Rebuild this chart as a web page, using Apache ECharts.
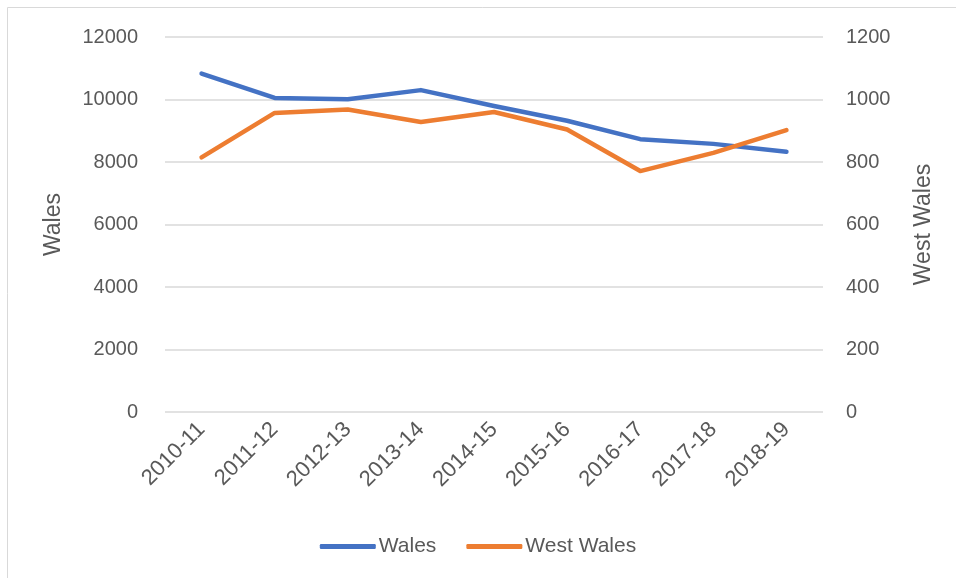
<!DOCTYPE html>
<html>
<head>
<meta charset="utf-8">
<script src="https://cdn.jsdelivr.net/npm/echarts@6/dist/echarts.min.js"></script>
<style>
  html, body { margin: 0; padding: 0; background: #fff; }
  #chart { width: 956px; height: 578px; }
</style>
</head>
<body>
<div id="chart"></div>
<script>
// years on the x axis
const years = ["2010-11", "2011-12", "2012-13", "2013-14", "2014-15", "2015-16", "2016-17", "2017-18", "2018-19"];
// left axis series
const walesValues = [10830, 10050, 10010, 10300, 9790, 9320, 8730, 8580, 8330];
// right axis series
const westWalesValues = [815, 957, 968, 928, 960, 904, 771, 829, 902];
const leftTicks = [0, 2000, 4000, 6000, 8000, 10000, 12000];
const rightTicks = [0, 200, 400, 600, 800, 1000, 1200];

const textColor = "#595959";
const font = "Liberation Sans";

const myChart = echarts.init(document.getElementById("chart"));
const option = {
  animation: false,
  textStyle: { fontFamily: font },
  graphic: [
    {
      type: "rect",
      shape: { x: 7.5, y: 7.5, width: 960, height: 580 },
      style: { fill: "none", stroke: "#d9d9d9", lineWidth: 1 },
    },
  ],
  grid: { left: 165, right: 133, top: 37, bottom: 166 },
  legend: {
    bottom: 16,
    left: "center",
    itemWidth: 56,
    itemHeight: 5,
    itemGap: 30,
    icon: "roundRect",
    textStyle: { color: textColor, fontSize: 21, fontFamily: font, padding: [0, 0, 0, -2] },
    data: ["Wales", "West Wales"],
  },
  xAxis: {
    type: "category",
    data: years,
    boundaryGap: true,
    axisLine: { show: false },
    axisTick: { show: false },
    axisLabel: { rotate: 45, color: textColor, fontSize: 22, margin: 14, fontFamily: font },
  },
  yAxis: [
    {
      type: "value",
      name: "Wales",
      nameLocation: "middle",
      nameGap: 100,
      nameTextStyle: { color: textColor, fontSize: 23, fontFamily: font },
      min: leftTicks[0],
      max: leftTicks[leftTicks.length - 1],
      interval: 2000,
      axisLine: { show: false },
      axisTick: { show: false },
      axisLabel: { color: textColor, fontSize: 20, margin: 27, fontFamily: font, formatter: (v) => String(v) },
      splitLine: { lineStyle: { color: "#d9d9d9", width: 1.5 } },
    },
    {
      type: "value",
      name: "West Wales",
      nameLocation: "middle",
      nameGap: 89,
      nameTextStyle: { color: textColor, fontSize: 23, fontFamily: font },
      min: rightTicks[0],
      max: rightTicks[rightTicks.length - 1],
      interval: 200,
      axisLine: { show: false },
      axisTick: { show: false },
      axisLabel: { color: textColor, fontSize: 20, margin: 23, fontFamily: font, formatter: (v) => String(v) },
      splitLine: { show: false },
    },
  ],
  series: [
    {
      name: "Wales",
      type: "line",
      yAxisIndex: 0,
      data: walesValues,
      symbol: "none",
      color: "#4472C4",
      lineStyle: { width: 4.5, cap: "round", join: "round" },
    },
    {
      name: "West Wales",
      type: "line",
      yAxisIndex: 1,
      data: westWalesValues,
      symbol: "none",
      color: "#ED7D31",
      lineStyle: { width: 4.5, cap: "round", join: "round" },
    },
  ],
};
myChart.setOption(option);
</script>
</body>
</html>
